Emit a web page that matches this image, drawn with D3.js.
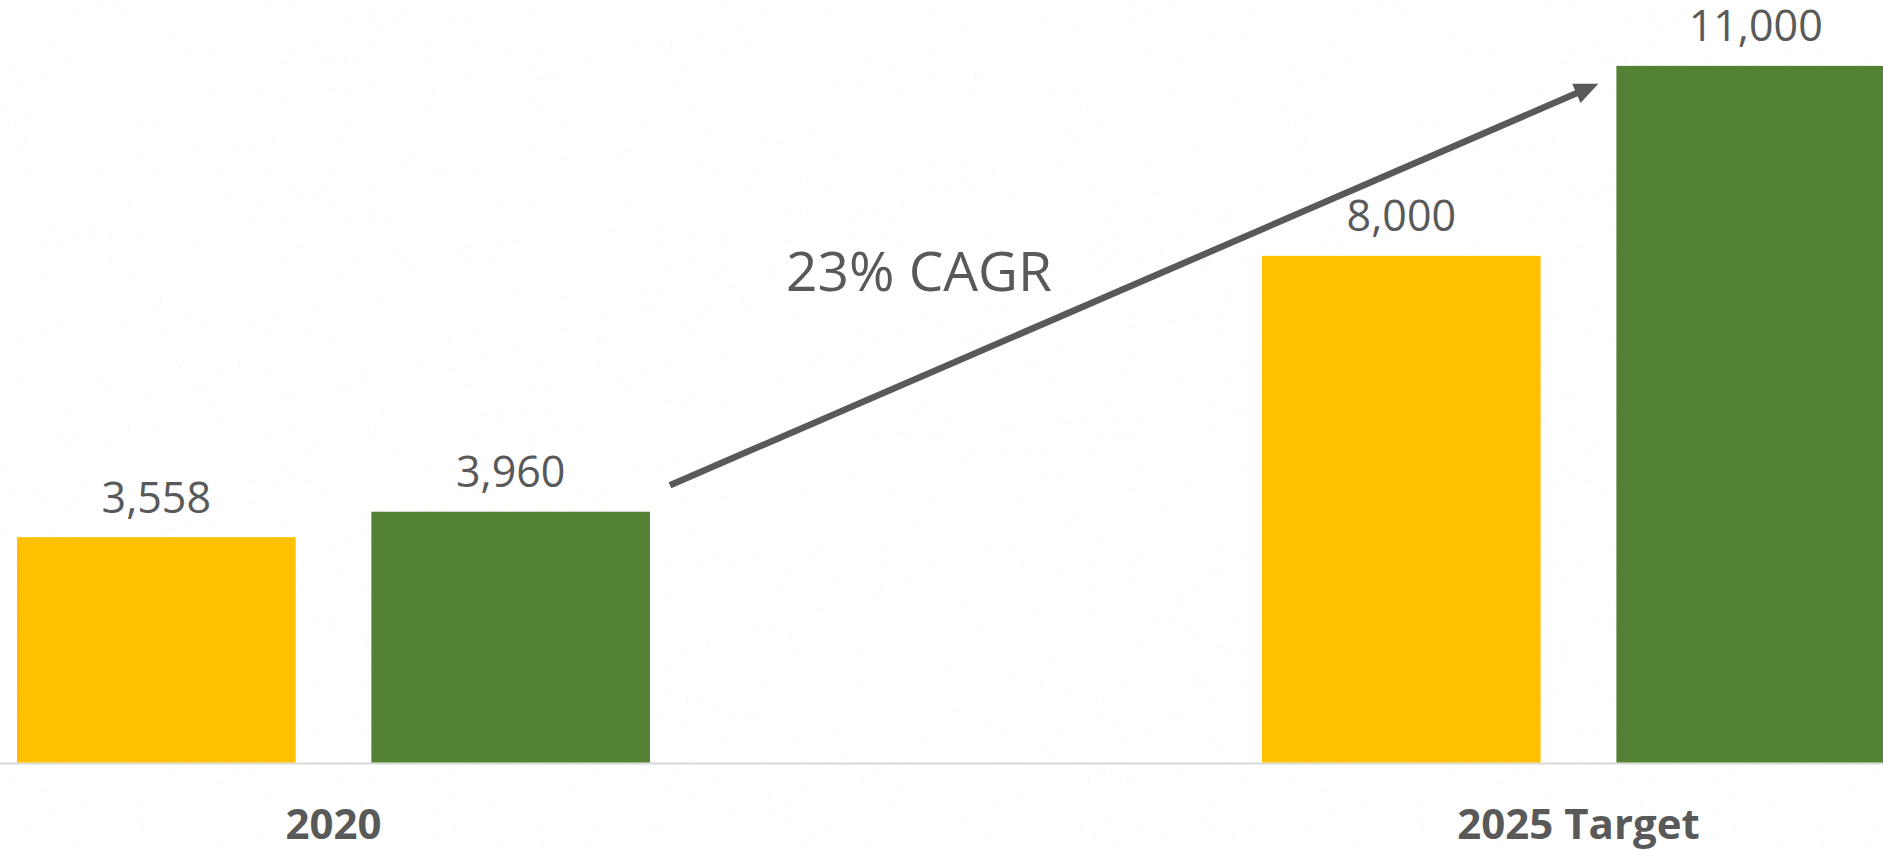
<!DOCTYPE html>
<html>
<head>
<meta charset="utf-8">
<script src="https://cdnjs.cloudflare.com/ajax/libs/d3/7.8.5/d3.min.js"></script>
<style>
  body { margin: 0; background: #ffffff; }
  svg { display: block; }
</style>
</head>
<body>
<div id="chart"></div>
<script>
    //chart data
    var categories = ['2020', '2025 Target'];
    var seriesNames = ['first', 'second'];
    var firstValues = [3558, 8000];
    var secondValues = [3960, 11000];
    var cagrLabel = '23% CAGR';

    var svgWidth = 1883;
    var svgHeight = 850;
    var baseY = 762.5;
    var textColor = '#595959';
    var colors = { first: '#FFC000', second: '#548235' };

    //rows for the grouped bars
    var rows = categories.map((c, i) => ({
      category: c,
      values: [
        { key: 'first', value: firstValues[i] },
        { key: 'second', value: secondValues[i] }
      ]
    }));

    var svg = d3.select('#chart')
        .append('svg')
        .attr('width', svgWidth)
        .attr('height', svgHeight);

    //paper like texture in the background (faint speckles)
    var defs = svg.append('defs');
    var paper = defs.append('filter')
        .attr('id', 'paper')
        .attr('x', 0).attr('y', 0)
        .attr('width', '100%').attr('height', '100%');
    paper.append('feTurbulence')
        .attr('type', 'fractalNoise')
        .attr('baseFrequency', 0.6)
        .attr('numOctaves', 2)
        .attr('seed', 7)
        .attr('result', 'noise');
    paper.append('feColorMatrix')
        .attr('in', 'noise')
        .attr('type', 'matrix')
        .attr('values', '0 0 0 0 0.6  0 0 0 0 0.6  0 0 0 0 0.6  14 0 0 0 -9.6');

    svg.append('rect')
        .attr('width', svgWidth)
        .attr('height', svgHeight)
        .attr('fill', '#ffffff');
    svg.append('rect')
        .attr('width', svgWidth)
        .attr('height', svgHeight)
        .attr('filter', 'url(#paper)')
        .attr('opacity', 0.16);

    //scales - the right group runs a bit past the edge of the picture
    var x0 = d3.scaleBand()
      .domain(categories)
      .range([17, 1895])
      .paddingInner(0.4916)
      .paddingOuter(0);

    var x1 = d3.scaleBand()
      .domain(seriesNames)
      .range([0, x0.bandwidth()])
      .paddingInner(0.2138)
      .paddingOuter(0);

    var y = d3.scaleLinear()
      .domain([0, 12000])
      .range([baseY, baseY - 12000 * 0.06333]);

    //baseline
    svg.append('line')
        .attr('x1', 0)
        .attr('x2', svgWidth)
        .attr('y1', baseY + 1)
        .attr('y2', baseY + 1)
        .attr('stroke', '#d9d9d9')
        .attr('stroke-width', 2);

    var groups = svg.append('g')
      .selectAll('g')
      .data(rows)
      .enter()
      .append('g')
      .attr('transform', (d) => 'translate(' + x0(d.category) + ',0)');

    groups.selectAll('rect')
      .data((d) => d.values)
      .enter()
      .append('rect')
      .attr('x', (d) => x1(d.key))
      .attr('y', (d) => y(d.value))
      .attr('width', x1.bandwidth())
      .attr('height', (d) => baseY - y(d.value))
      .attr('fill', (d) => colors[d.key]);

    //value labels above bars
    groups.selectAll('text.value')
      .data((d) => d.values)
      .enter()
      .append('text')
      .attr('class', 'value')
      .attr('x', (d) => x1(d.key) + x1.bandwidth() / 2)
      .attr('y', (d) => y(d.value) - 24.5)
      .attr('text-anchor', 'middle')
      .attr('font-family', '"Open Sans", sans-serif')
      .attr('font-size', 43)
      .attr('fill', textColor)
      .text((d) => d3.format(',')(d.value));

    //category labels
    svg.append('g')
      .selectAll('text')
      .data(categories)
      .enter()
      .append('text')
      .attr('x', (d) => x0(d) + x0.bandwidth() / 2)
      .attr('y', 839)
      .attr('text-anchor', 'middle')
      .attr('font-family', '"Open Sans", sans-serif')
      .attr('font-weight', 'bold')
      .attr('font-size', 42)
      .attr('fill', textColor)
      .text((d) => d);

    //growth arrow from the 2020 pair to the 2025 pair
    var startX = x0(categories[0]) + x0.bandwidth() + 20;
    var startY = y(secondValues[0]) - 26.5;
    var tipX = x0(categories[1]) + x1('second') - 18;
    var tipY = y(secondValues[1]) + 18;
    var angle = Math.atan2(tipY - startY, tipX - startX);
    var headLen = 24, headHalf = 10.5;
    var baseX = tipX - headLen * Math.cos(angle);
    var baseYh = tipY - headLen * Math.sin(angle);

    svg.append('line')
        .attr('x1', startX)
        .attr('y1', startY)
        .attr('x2', baseX + 2 * Math.cos(angle))
        .attr('y2', baseYh + 2 * Math.sin(angle))
        .attr('stroke', textColor)
        .attr('stroke-width', 6.5);

    svg.append('path')
        .attr('d', d3.line()([
          [tipX, tipY],
          [baseX - headHalf * Math.sin(angle), baseYh + headHalf * Math.cos(angle)],
          [baseX + headHalf * Math.sin(angle), baseYh - headHalf * Math.cos(angle)]
        ]) + 'Z')
        .attr('fill', textColor);

    svg.append('text')
        .attr('x', 919)
        .attr('y', 290.5)
        .attr('text-anchor', 'middle')
        .attr('font-family', '"Open Sans", sans-serif')
        .attr('font-size', 55)
        .attr('fill', textColor)
        .text(cagrLabel);
</script>
</body>
</html>
